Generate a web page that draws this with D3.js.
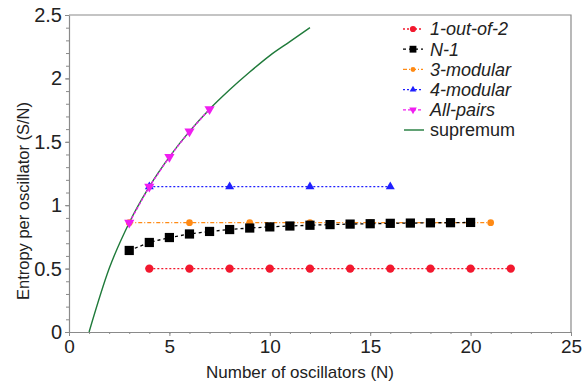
<!DOCTYPE html>
<html>
<head>
<meta charset="utf-8">
<script src="https://cdn.jsdelivr.net/npm/d3@7"></script>
<style>
  body { margin: 0; background: #fff; }
  text { font-family: "Liberation Sans", Arial, sans-serif; fill: #222; }
</style>
</head>
<body>
<div id="chart"></div>
<script>
// Data
const oneOutOfTwoN = [4, 6, 8, 10, 12, 14, 16, 18, 20, 22];
const oneOutOfTwoS = [0.5, 0.5, 0.5, 0.5, 0.5, 0.5, 0.5, 0.5, 0.5, 0.5];

const nMinusOneN = [3, 4, 5, 6, 7, 8, 9, 10, 11, 12, 13, 14, 15, 16, 17, 18, 19, 20];
const nMinusOneS = [0.643, 0.706, 0.745, 0.773, 0.793, 0.808, 0.82, 0.829, 0.836, 0.842,
                    0.847, 0.851, 0.854, 0.857, 0.859, 0.861, 0.862, 0.864];

const threeModN = [3, 6, 9, 12, 15, 18, 21];
const threeModS = [0.862, 0.862, 0.862, 0.862, 0.862, 0.862, 0.862];

const fourModN = [4, 8, 12, 16];
const fourModS = [1.146, 1.146, 1.146, 1.146];

const allPairsN = [3, 4, 5, 6, 7];
const allPairsS = [0.862, 1.146, 1.381, 1.582, 1.757];

const supremumN = [1, 2, 3, 4, 5, 6, 7, 8, 9, 10, 11, 12];
const supremumS = [0, 0.5, 0.862, 1.146, 1.381, 1.582, 1.757, 1.91, 2.05, 2.18, 2.29, 2.40];

const xTicks = [0, 5, 10, 15, 20, 25];
const yTicks = [0, 0.5, 1, 1.5, 2, 2.5];

const width = 583;
const height = 381;
const marginTop = 15;
const marginRight = 12;
const marginBottom = 49;
const marginLeft = 69;

const x = d3.scaleLinear([0, 25], [marginLeft, width - marginRight]);
const y = d3.scaleLinear([0, 2.5], [height - marginBottom, marginTop]);

const svg = d3.create("svg")
    .attr("width", width)
    .attr("height", height);

const axisColor = "#8a8a8a";

// frame (top + right)
svg.append("path")
    .attr("d", `M${marginLeft},${marginTop}H${width - marginRight}V${height - marginBottom}`)
    .attr("fill", "none")
    .attr("stroke", axisColor)
    .attr("stroke-width", 1.2);

// minor ticks
svg.append("g")
    .attr("transform", `translate(${marginLeft},0)`)
    .call(d3.axisLeft(y).tickValues(d3.range(0, 2.51, 0.1)).tickSize(3).tickFormat(""))
    .call(g => g.select(".domain").remove())
    .selectAll("line").attr("stroke", axisColor);

svg.append("g")
    .attr("transform", `translate(0,${height - marginBottom})`)
    .call(d3.axisBottom(x).tickValues(d3.range(0, 26, 1)).tickSize(2).tickFormat(""))
    .call(g => g.select(".domain").remove())
    .selectAll("line").attr("stroke", axisColor);

// x axis
const xAxis = svg.append("g")
    .attr("transform", `translate(0,${height - marginBottom})`)
    .call(d3.axisBottom(x).tickValues(xTicks).tickSize(4).tickSizeOuter(0).tickPadding(4));
xAxis.select(".domain").attr("stroke", axisColor).attr("stroke-width", 1.2);
xAxis.selectAll("line").attr("stroke", axisColor);
xAxis.selectAll("text").attr("font-size", 19).attr("fill", "#222")
    .attr("font-family", "Liberation Sans, Arial, sans-serif");

// y axis
const yAxis = svg.append("g")
    .attr("transform", `translate(${marginLeft},0)`)
    .call(d3.axisLeft(y).tickValues(yTicks).tickSize(4).tickSizeOuter(0).tickPadding(3)
        .tickFormat(d => d3.format("")(d)));
yAxis.select(".domain").attr("stroke", axisColor).attr("stroke-width", 1.2);
yAxis.selectAll("line").attr("stroke", axisColor);
yAxis.selectAll("text").attr("font-size", 20).attr("fill", "#222")
    .attr("font-family", "Liberation Sans, Arial, sans-serif");

// axis titles
svg.append("text")
    .text("Number of oscillators (N)")
    .attr("x", 300)
    .attr("y", 378)
    .attr("text-anchor", "middle")
    .attr("font-size", 17);

svg.append("text")
    .text("Entropy per oscillator (S/N)")
    .attr("transform", "rotate(-90)")
    .attr("x", -201)
    .attr("y", 29)
    .attr("text-anchor", "middle")
    .attr("font-size", 16.5);

// series
const series = [
  {name: "1-out-of-2", n: oneOutOfTwoN, s: oneOutOfTwoS, color: "#f2182e", dash: "2,2", sym: d3.symbolCircle, size: 55, italic: true},
  {name: "N-1", n: nMinusOneN, s: nMinusOneS, color: "#000000", dash: "3,3", sym: d3.symbolSquare, size: 85, italic: true},
  {name: "3-modular", n: threeModN, s: threeModS, color: "#ff8a14", dash: "4,2,1,2", sym: d3.symbolCircle, size: 35, italic: true},
  {name: "4-modular", n: fourModN, s: fourModS, color: "#1f1fff", dash: "2,2", sym: d3.symbolTriangle, size: 35, italic: true},
  {name: "All-pairs", n: allPairsN, s: allPairsS, color: "#f01ef0", dash: "3,2", sym: d3.symbolTriangle, size: 45, italic: true, flip: true}
];

const line = d3.line()
    .x(d => x(d[0]))
    .y(d => y(d[1]));

// supremum curve
const supData = supremumN.map((n, i) => [n, supremumS[i]]);
svg.append("path")
    .attr("d", line.curve(d3.curveMonotoneX)(supData))
    .attr("fill", "none")
    .attr("stroke", "#1f7a3a")
    .attr("stroke-width", 1.4);
line.curve(d3.curveLinear);

const drawOrder = [0, 2, 1, 3, 4];
drawOrder.forEach(k => {
  const sr = series[k];
  const data = sr.n.map((n, i) => [n, sr.s[i]]);
  svg.append("path")
      .attr("d", line(data))
      .attr("fill", "none")
      .attr("stroke", sr.color)
      .attr("stroke-width", 1.3)
      .attr("stroke-dasharray", sr.dash);
  svg.append("g")
    .selectAll("path")
    .data(data)
    .join("path")
      .attr("transform", d => `translate(${x(d[0])},${y(d[1])})${sr.flip ? " rotate(180)" : ""}`)
      .attr("d", d3.symbol(sr.sym, sr.size))
      .attr("fill", sr.color);
});

// legend
const legend = svg.append("g");
const legendItems = series.concat([{name: "supremum", color: "#1f7a3a", italic: false}]);
legendItems.forEach((sr, i) => {
  const ly = 29 + i * 20.2;
  const row = legend.append("g").attr("transform", `translate(0,${ly})`);
  if (sr.sym) {
    row.append("line")
        .attr("x1", 403).attr("x2", 423)
        .attr("stroke", sr.color)
        .attr("stroke-width", 1.3)
        .attr("stroke-dasharray", sr.dash);
    row.append("path")
        .attr("transform", `translate(413,0)${sr.flip ? " rotate(180)" : ""}`)
        .attr("d", d3.symbol(sr.sym, sr.size * 0.55))
        .attr("fill", sr.color);
  } else {
    row.append("line")
        .attr("x1", 404).attr("x2", 424)
        .attr("stroke", sr.color)
        .attr("stroke-width", 1.4);
  }
  row.append("text")
      .text(sr.name)
      .attr("x", 430)
      .attr("y", 0)
      .attr("dy", "0.36em")
      .attr("font-size", 18)
      .attr("font-style", sr.italic ? "italic" : "normal");
});

document.getElementById("chart").append(svg.node());
</script>
</body>
</html>
